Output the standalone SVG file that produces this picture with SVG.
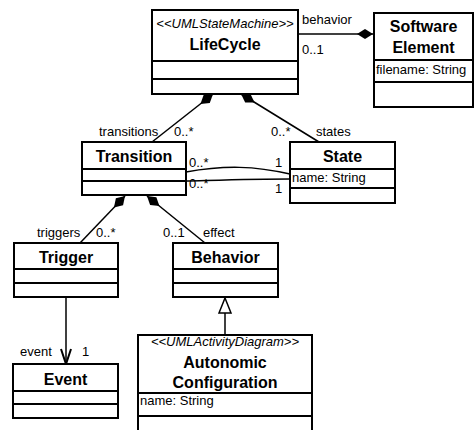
<svg xmlns="http://www.w3.org/2000/svg" width="474" height="430" viewBox="0 0 474 430">
<style>
.box{fill:#fff;stroke:#000;stroke-width:2}
.div{stroke:#000;stroke-width:2}
.ln{fill:none;stroke:#000;stroke-width:1.5}
text{font-family:"Liberation Sans",Arial,sans-serif;fill:#000}
.nm{font-size:16px;font-weight:bold;text-anchor:middle}
.st{font-size:13px;font-style:italic;text-anchor:middle}
.at{font-size:13px}
.lb{font-size:13px}
</style>
<defs>
<marker id="comp" markerUnits="userSpaceOnUse" markerWidth="18" markerHeight="12" refX="0" refY="5" orient="auto" overflow="visible">
<path d="M0,5 L8,0 L16,5 L8,10 Z" fill="#000" stroke="none"/>
</marker>
<marker id="open" markerUnits="userSpaceOnUse" markerWidth="18" markerHeight="14" refX="15" refY="5" orient="auto" overflow="visible">
<path d="M0,0 L15,5 L0,10" fill="none" stroke="#000" stroke-width="2"/>
</marker>
<marker id="gen" markerUnits="userSpaceOnUse" markerWidth="18" markerHeight="14" refX="15" refY="6" orient="auto" overflow="visible">
<path d="M0,0 L15,6 L0,12 Z" fill="#fff" stroke="#000" stroke-width="1.5"/>
</marker>
</defs>

<g id="connectors">
<path class="ln" d="M373,34 L298,34" marker-start="url(#comp)"/>
<path class="ln" d="M213,94 L152,142" marker-start="url(#comp)"/>
<path class="ln" d="M241,94 L319,142" marker-start="url(#comp)"/>
<path class="ln" d="M125,196 L80,243" marker-start="url(#comp)"/>
<path class="ln" d="M147,196 L205,243" marker-start="url(#comp)"/>
<path class="ln" d="M186,172 C225,165 255,166 290,174"/>
<path class="ln" d="M186,181 C225,180 255,179 290,179"/>
<path class="ln" d="M66,297 L66,364" marker-end="url(#open)"/>
<path class="ln" d="M225,335 L225,298" marker-end="url(#gen)"/>
<text class="lb" x="302" y="24">behavior</text>
<text class="lb" x="302" y="54">0..1</text>
<text class="lb" x="99" y="136">transitions</text>
<text class="lb" x="174" y="136">0..*</text>
<text class="lb" x="271" y="136">0..*</text>
<text class="lb" x="316" y="136">states</text>
<text class="lb" x="189" y="167">0..*</text>
<text class="lb" x="275" y="167">1</text>
<text class="lb" x="189" y="188">0..*</text>
<text class="lb" x="275" y="193">1</text>
<text class="lb" x="37" y="237">triggers</text>
<text class="lb" x="96" y="237">0..*</text>
<text class="lb" x="163" y="237">0..1</text>
<text class="lb" x="203" y="237">effect</text>
<text class="lb" x="20" y="356">event</text>
<text class="lb" x="82" y="356">1</text>
</g>

<g id="lifecycle">
<rect class="box" x="152" y="10" width="146" height="84"/>
<line class="div" x1="152" y1="61" x2="298" y2="61"/>
<line class="div" x1="152" y1="79" x2="298" y2="79"/>
<text class="st" x="225" y="28">&lt;&lt;UMLStateMachine&gt;&gt;</text>
<text class="nm" x="225" y="50">LifeCycle</text>
</g>

<g id="software-element">
<rect class="box" x="374" y="13" width="99" height="94"/>
<line class="div" x1="374" y1="60" x2="473" y2="60"/>
<line class="div" x1="374" y1="82" x2="473" y2="82"/>
<text class="nm" x="423.5" y="32">Software</text>
<text class="nm" x="423.5" y="53">Element</text>
<text class="at" x="376" y="74">filename: String</text>
</g>

<g id="transition">
<rect class="box" x="82" y="142" width="104" height="53"/>
<line class="div" x1="82" y1="169" x2="186" y2="169"/>
<line class="div" x1="82" y1="181" x2="186" y2="181"/>
<text class="nm" x="134" y="162">Transition</text>
</g>

<g id="state">
<rect class="box" x="290" y="142" width="105" height="61"/>
<line class="div" x1="290" y1="169" x2="395" y2="169"/>
<line class="div" x1="290" y1="188" x2="395" y2="188"/>
<text class="nm" x="342.5" y="162">State</text>
<text class="at" x="292" y="182">name: String</text>
</g>

<g id="trigger">
<rect class="box" x="14" y="243" width="104" height="54"/>
<line class="div" x1="14" y1="269" x2="118" y2="269"/>
<line class="div" x1="14" y1="283" x2="118" y2="283"/>
<text class="nm" x="66" y="263">Trigger</text>
</g>

<g id="behavior">
<rect class="box" x="173" y="243" width="105" height="54"/>
<line class="div" x1="173" y1="269" x2="278" y2="269"/>
<line class="div" x1="173" y1="283" x2="278" y2="283"/>
<text class="nm" x="225.5" y="263">Behavior</text>
</g>

<g id="event">
<rect class="box" x="13" y="364" width="105" height="54"/>
<line class="div" x1="13" y1="391" x2="118" y2="391"/>
<line class="div" x1="13" y1="404" x2="118" y2="404"/>
<text class="nm" x="65.5" y="385">Event</text>
</g>

<g id="autonomic-configuration">
<rect class="box" x="138" y="335" width="174" height="105"/>
<line class="div" x1="138" y1="393" x2="312" y2="393"/>
<line class="div" x1="138" y1="416" x2="312" y2="416"/>
<text class="st" x="225" y="346">&lt;&lt;UMLActivityDiagram&gt;&gt;</text>
<text class="nm" x="225" y="368">Autonomic</text>
<text class="nm" x="225" y="388">Configuration</text>
<text class="at" x="140" y="405">name: String</text>
</g>
</svg>
